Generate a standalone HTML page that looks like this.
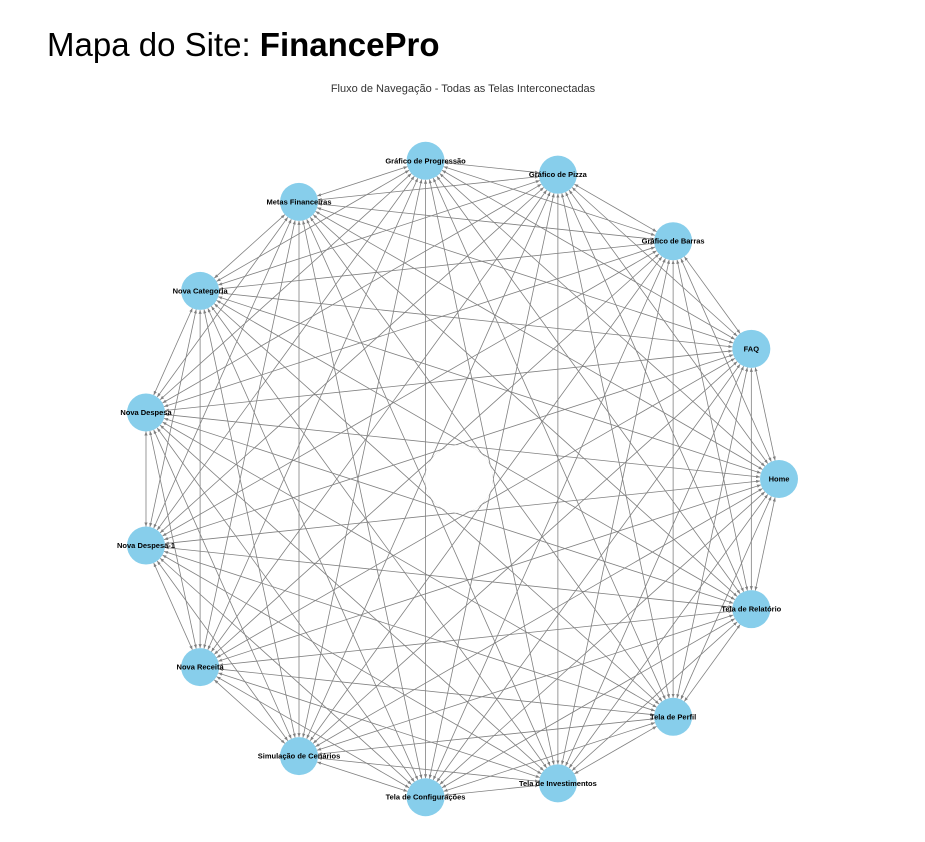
<!DOCTYPE html>
<html><head><meta charset="utf-8"><style>
body{margin:0;background:#fff;width:925px;height:842px;overflow:hidden;font-family:"Liberation Sans",sans-serif}
#title{position:absolute;left:47px;top:26px;font-size:33px;color:#000;white-space:nowrap}
</style></head><body>
<div id="title">Mapa do Site: <b>FinancePro</b></div>
<svg id="chart" width="925" height="842" style="position:absolute;left:0;top:0">
<defs><marker id="ah" viewBox="0 0 10 10" refX="10" refY="5" markerWidth="5" markerHeight="5" orient="auto-start-reverse"><path d="M0,1 L10,5 L0,9 z" fill="#808080"/></marker></defs>
<text x="463" y="92" text-anchor="middle" font-size="11" fill="#333">Fluxo de Navegação - Todas as Telas Interconectadas</text>
<g id="edges"></g><g id="nodes"></g>
</svg>
<script>
const nodeNames = ["Home","FAQ","Gráfico de Barras","Gráfico de Pizza","Gráfico de Progressão","Metas Financeiras","Nova Categoria","Nova Despesa","Nova Despesa-1","Nova Receita","Simulação de Cenários","Tela de Configurações","Tela de Investimentos","Tela de Perfil","Tela de Relatório"];
const cx=459, cy=479, R=320, nr=19;
const NS="http://www.w3.org/2000/svg";
const pos=nodeNames.map((n,i)=>{const a=i*2*Math.PI/nodeNames.length;return [cx+R*Math.cos(a),cy-R*Math.sin(a)];});
const eg=document.getElementById('edges'), ng=document.getElementById('nodes');
for(let i=0;i<pos.length;i++)for(let j=i+1;j<pos.length;j++){
  const [x1,y1]=pos[i],[x2,y2]=pos[j];const d=Math.hypot(x2-x1,y2-y1);const ux=(x2-x1)/d,uy=(y2-y1)/d;
  const l=document.createElementNS(NS,'line');
  l.setAttribute('x1',x1+ux*nr);l.setAttribute('y1',y1+uy*nr);l.setAttribute('x2',x2-ux*nr);l.setAttribute('y2',y2-uy*nr);
  l.setAttribute('stroke','#808080');l.setAttribute('stroke-width','0.8');
  l.setAttribute('marker-end','url(#ah)');l.setAttribute('marker-start','url(#ah)');
  
  
  eg.appendChild(l);
}
const center=document.createElementNS(NS,'circle');
center.setAttribute('cx',cx);center.setAttribute('cy',cy);center.setAttribute('r',34);center.setAttribute('fill','#fff');


ng.appendChild(center);
nodeNames.forEach((n,i)=>{
  const c=document.createElementNS(NS,'circle');
  c.setAttribute('cx',pos[i][0]);c.setAttribute('cy',pos[i][1]);c.setAttribute('r',nr);c.setAttribute('fill','#87ceeb');
  
  
  ng.appendChild(c);
  const t=document.createElementNS(NS,'text');
  t.setAttribute('x',pos[i][0]);t.setAttribute('y',pos[i][1]+2.5);t.setAttribute('text-anchor','middle');
  t.setAttribute('font-size','7.5');t.setAttribute('font-weight','bold');t.setAttribute('fill','#000');
  t.textContent=n;
  
  
  ng.appendChild(t);
});
</script>
</body></html>
